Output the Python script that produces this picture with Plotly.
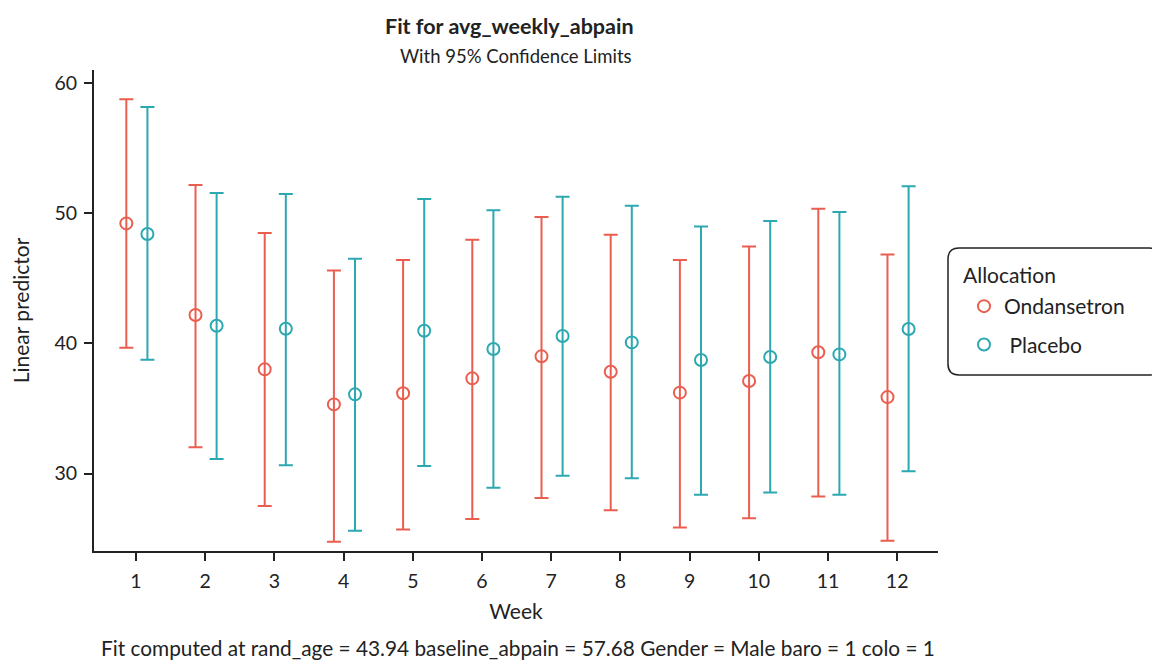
import plotly.graph_objects as go

# Weeks and model-based estimates with 95% confidence limits
weeks = [1, 2, 3, 4, 5, 6, 7, 8, 9, 10, 11, 12]

ond_est = [49.22, 42.18, 38.01, 35.32, 36.17, 37.32, 39.01, 37.83, 36.22, 37.11, 39.32, 35.88]
ond_upper = [58.75, 52.17, 48.48, 45.61, 46.41, 47.97, 49.71, 48.35, 46.41, 47.45, 50.35, 46.84]
ond_lower = [39.67, 32.02, 27.51, 24.77, 25.72, 26.51, 28.13, 27.18, 25.87, 26.57, 28.25, 24.85]

pla_est = [48.40, 41.36, 41.13, 36.09, 40.98, 39.57, 40.57, 40.08, 38.73, 38.96, 39.16, 41.11]
pla_upper = [58.16, 51.55, 51.47, 46.51, 51.09, 50.22, 51.27, 50.58, 48.99, 49.40, 50.09, 52.07]
pla_lower = [38.75, 31.12, 30.64, 25.62, 30.58, 28.92, 29.84, 29.64, 28.38, 28.56, 28.38, 30.18]

RED = "#EA5E4F"
TEAL = "#2CA8B1"
INK = "#222222"
FONT = "Lato"

# plot area in pixels
L, R, T, B = 94, 938, 70, 551
W, H = 1152, 661


def series(name, est, lo, hi, color, shift, group):
    return go.Scatter(
        x=[w + shift for w in weeks],
        y=est,
        mode="markers",
        name=name,
        legendgroup=group,
        marker=dict(symbol="circle-open", size=12, color=color, line=dict(width=2, color=color)),
        error_y=dict(
            type="data",
            symmetric=False,
            array=[h - e for h, e in zip(hi, est)],
            arrayminus=[e - l for e, l in zip(est, lo)],
            color=color,
            thickness=2,
            width=7,
        ),
    )


def pa_x(x):
    return (x - L) / (R - L)


def pa_y(y):
    return (B - y) / (B - T)


fig = go.Figure()
fig.add_trace(series("Ondansetron", ond_est, ond_lower, ond_upper, RED, -0.14, "a"))
fig.add_trace(series(" Placebo", pla_est, pla_lower, pla_upper, TEAL, 0.165, "b"))

fig.update_layout(
    width=W,
    height=H,
    margin=dict(l=L, r=W - R, t=T, b=H - B),
    plot_bgcolor="white",
    paper_bgcolor="white",
    font=dict(family=FONT, size=20, color=INK),
    showlegend=True,
    legend=dict(
        font=dict(size=21, color=INK),
        x=pa_x(964),
        xanchor="left",
        y=pa_y(286),
        yanchor="top",
        bgcolor="rgba(0,0,0,0)",
        borderwidth=0,
        traceorder="grouped",
        tracegroupgap=8,
        itemsizing="constant",
    ),
    xaxis=dict(
        range=[0.393, 12.59],
        tickvals=weeks,
        ticktext=[str(w) for w in weeks],
        showgrid=False,
        zeroline=False,
        showline=True,
        linecolor=INK,
        linewidth=2,
        ticks="outside",
        ticklen=8,
        tickwidth=1.5,
        tickcolor=INK,
        ticklabelstandoff=4,
        tickfont=dict(size=19.5, color=INK),
        title=dict(text="Week", font=dict(size=21, color=INK), standoff=13),
    ),
    yaxis=dict(
        range=[24.06, 61.0],
        tickvals=[30, 40, 50, 60],
        showgrid=False,
        zeroline=False,
        showline=True,
        linecolor=INK,
        linewidth=2,
        ticks="outside",
        ticklen=8,
        tickwidth=1.5,
        tickcolor=INK,
        ticklabelstandoff=3,
        tickfont=dict(size=19.5, color=INK),
        title=dict(text="Linear predictor", font=dict(size=21, color=INK), standoff=19),
    ),
)

# Rounded frame around the legend
x0, x1, y0, y1, r = 948, 1160, 248, 375, 11
path = (
    f"M {pa_x(x0 + r)} {pa_y(y0)} L {pa_x(x1 - r)} {pa_y(y0)} "
    f"Q {pa_x(x1)} {pa_y(y0)} {pa_x(x1)} {pa_y(y0 + r)} L {pa_x(x1)} {pa_y(y1 - r)} "
    f"Q {pa_x(x1)} {pa_y(y1)} {pa_x(x1 - r)} {pa_y(y1)} L {pa_x(x0 + r)} {pa_y(y1)} "
    f"Q {pa_x(x0)} {pa_y(y1)} {pa_x(x0)} {pa_y(y1 - r)} L {pa_x(x0)} {pa_y(y0 + r)} "
    f"Q {pa_x(x0)} {pa_y(y0)} {pa_x(x0 + r)} {pa_y(y0)} Z"
)
fig.add_shape(type="path", path=path, xref="paper", yref="paper", line=dict(color=INK, width=1.5))

# Legend heading
fig.add_annotation(text="Allocation", x=pa_x(961), y=pa_y(274), xref="paper", yref="paper",
                   showarrow=False, font=dict(size=21, color=INK, family=FONT), xanchor="left", yanchor="middle")

# Title, subtitle and footnote
fig.add_annotation(text="<b>Fit for avg_weekly_abpain</b>", x=pa_x(509), y=pa_y(26), xref="paper", yref="paper",
                   showarrow=False, font=dict(size=21.5, color=INK, family=FONT), xanchor="center", yanchor="middle")
fig.add_annotation(text="With 95% Confidence Limits", x=pa_x(516), y=pa_y(56), xref="paper", yref="paper",
                   showarrow=False, font=dict(size=18.5, color=INK, family=FONT), xanchor="center", yanchor="middle")
fig.add_annotation(text="Fit computed at rand_age = 43.94 baseline_abpain = 57.68 Gender = Male baro = 1 colo = 1",
                   x=pa_x(518), y=pa_y(661), xref="paper", yref="paper", showarrow=False, borderpad=0,
                   font=dict(size=20.8, color=INK, family=FONT), xanchor="center", yanchor="bottom")

fig.write_html("out.html")
